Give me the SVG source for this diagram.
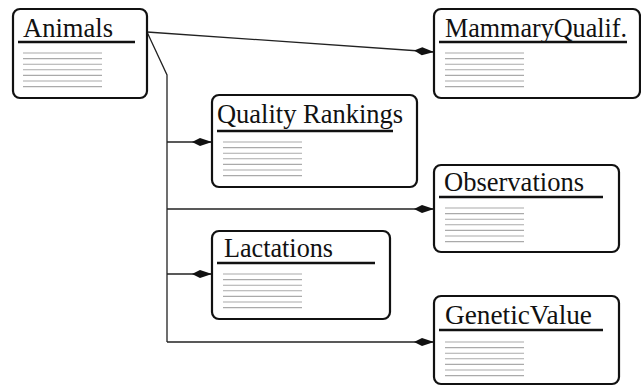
<svg xmlns="http://www.w3.org/2000/svg" width="641" height="386" viewBox="0 0 641 386">
<defs>
<style>
.box{fill:#fff;stroke:#111;stroke-width:2.2}
.title{font-family:"Liberation Serif","Times New Roman",serif;font-size:28px;fill:#111}
.ul{stroke:#111;stroke-width:2.4}
.gl{stroke:#aaa;stroke-width:1.1}
.conn{fill:none;stroke:#222;stroke-width:1.3}
</style>
<marker id="dia" viewBox="0 0 20 10" refX="20" refY="5" markerWidth="20" markerHeight="10" markerUnits="userSpaceOnUse" orient="auto">
<path d="M0,5 L8,1 L20,5 L8,9 Z" fill="#111"/>
</marker>
<g id="lines">
<path d="M0,0H79M0,5.6H79M0,11.2H79M0,16.8H79M0,22.4H79M0,28H79M0,33.6H79"/>
</g>
</defs>
<g id="connectors">
<path class="conn" d="M147,32 L434,52" marker-end="url(#dia)"/>
<path class="conn" d="M147,32 L167,75 L167,342"/>
<path class="conn" d="M167,142 H212" marker-end="url(#dia)"/>
<path class="conn" d="M167,209 H434" marker-end="url(#dia)"/>
<path class="conn" d="M167,274 H212" marker-end="url(#dia)"/>
<path class="conn" d="M167,342 H434" marker-end="url(#dia)"/>
</g>
<g id="animals">
<rect class="box" x="13" y="9" width="134" height="89" rx="7"/>
<text class="title" x="23" y="37" textLength="90" lengthAdjust="spacingAndGlyphs">Animals</text>
<line class="ul" x1="18" y1="42" x2="135" y2="42"/>
<use href="#lines" class="gl" x="23" y="53"/>
</g>
<g id="mammary">
<rect class="box" x="434" y="9" width="206" height="89" rx="7"/>
<text class="title" x="445" y="37" textLength="182" lengthAdjust="spacingAndGlyphs">MammaryQualif.</text>
<line class="ul" x1="439" y1="42" x2="627" y2="42"/>
<use href="#lines" class="gl" x="445" y="53"/>
</g>
<g id="quality">
<rect class="box" x="212" y="95" width="205" height="92" rx="7"/>
<text class="title" x="217" y="123" textLength="186" lengthAdjust="spacingAndGlyphs">Quality Rankings</text>
<line class="ul" x1="217" y1="131" x2="393" y2="131"/>
<use href="#lines" class="gl" x="223" y="142"/>
</g>
<g id="observations">
<rect class="box" x="434" y="165" width="185" height="87" rx="7"/>
<text class="title" x="444" y="191" textLength="140" lengthAdjust="spacingAndGlyphs">Observations</text>
<line class="ul" x1="439" y1="197" x2="603" y2="197"/>
<use href="#lines" class="gl" x="445" y="208"/>
</g>
<g id="lactations">
<rect class="box" x="212" y="231" width="178" height="88" rx="7"/>
<text class="title" x="224" y="257" textLength="109" lengthAdjust="spacingAndGlyphs">Lactations</text>
<line class="ul" x1="217" y1="263" x2="375" y2="263"/>
<use href="#lines" class="gl" x="223" y="274"/>
</g>
<g id="genetic">
<rect class="box" x="434" y="296" width="185" height="88" rx="7"/>
<text class="title" x="445" y="324" textLength="147" lengthAdjust="spacingAndGlyphs">GeneticValue</text>
<line class="ul" x1="439" y1="330" x2="603" y2="330"/>
<use href="#lines" class="gl" x="445" y="342"/>
</g>
</svg>
